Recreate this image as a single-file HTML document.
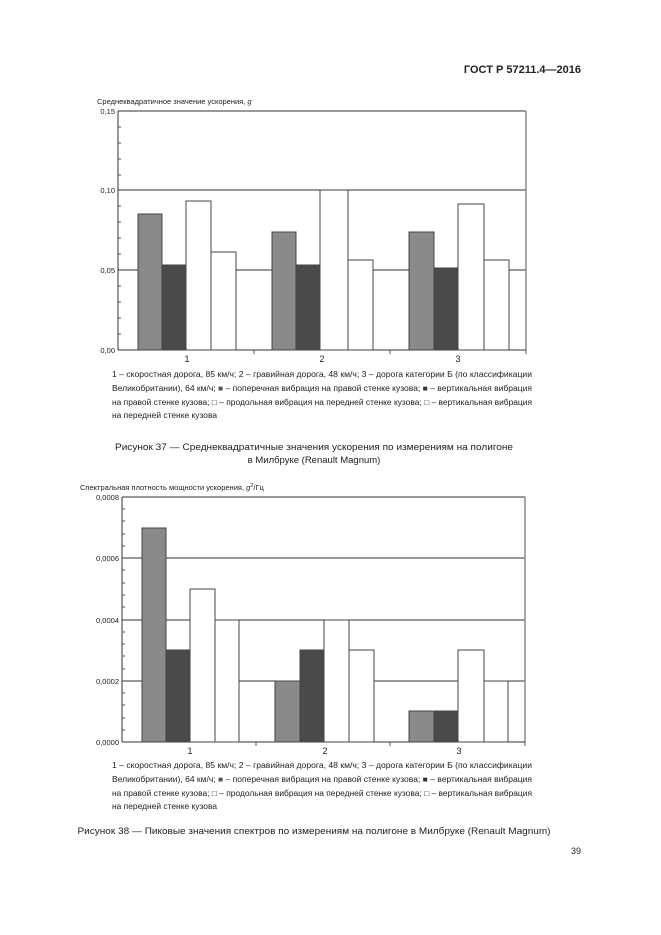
<!DOCTYPE html>
<html><head><meta charset="utf-8"><style>
html,body{margin:0;padding:0;background:#fff}
svg{display:block}
text{font-family:"Liberation Sans",sans-serif;fill:#222}
</style></head><body>
<svg width="661" height="935" viewBox="0 0 661 935" xmlns="http://www.w3.org/2000/svg">
<rect width="661" height="935" fill="#fff"/>
<text x="581" y="73" font-size="11" font-weight="bold" text-anchor="end">ГОСТ Р 57211.4—2016</text>

<!-- Chart 1 -->
<text x="97" y="104" font-size="7.5">Среднеквадратичное значение ускорения, <tspan font-style="italic">g</tspan></text>
<g stroke="#333" stroke-width="1">
<line x1="118" y1="111" x2="526" y2="111"/>
<line x1="118" y1="190" x2="526" y2="190"/>
<line x1="118" y1="270" x2="526" y2="270"/>
<line x1="526" y1="111" x2="526" y2="350" stroke="#888" stroke-width="1.5"/>
<line x1="118" y1="111" x2="118" y2="350"/>
<line x1="118" y1="350" x2="526" y2="350"/>
</g>
<g stroke="#555" stroke-width="1">
<line x1="118" y1="127" x2="121" y2="127"/><line x1="118" y1="143" x2="121" y2="143"/><line x1="118" y1="159" x2="121" y2="159"/><line x1="118" y1="175" x2="121" y2="175"/>
<line x1="118" y1="206" x2="121" y2="206"/><line x1="118" y1="222" x2="121" y2="222"/><line x1="118" y1="238" x2="121" y2="238"/><line x1="118" y1="254" x2="121" y2="254"/>
<line x1="118" y1="286" x2="121" y2="286"/><line x1="118" y1="302" x2="121" y2="302"/><line x1="118" y1="318" x2="121" y2="318"/><line x1="118" y1="334" x2="121" y2="334"/>
<line x1="254" y1="350" x2="254" y2="354"/><line x1="390" y1="350" x2="390" y2="354"/><line x1="526" y1="350" x2="526" y2="354"/>
</g>
<g font-size="7.5" text-anchor="end">
<text x="115" y="114">0,15</text><text x="115" y="193">0,10</text><text x="115" y="273">0,05</text><text x="115" y="353">0,00</text>
</g>
<g font-size="9" text-anchor="middle"><text x="187" y="362">1</text><text x="322" y="362">2</text><text x="458" y="362">3</text></g>
<g stroke="#444" stroke-width="1">
<rect x="138" y="214" width="24" height="136" fill="#8a8a8a"/>
<rect x="162" y="265" width="24" height="85" fill="#4a4a4a"/>
<rect x="186" y="201" width="25" height="149" fill="#fff"/>
<rect x="211" y="252" width="25" height="98" fill="#fff"/>
<rect x="272" y="232" width="24" height="118" fill="#8a8a8a"/>
<rect x="296" y="265" width="24" height="85" fill="#4a4a4a"/>
<rect x="320" y="190" width="28" height="160" fill="#fff"/>
<rect x="348" y="260" width="25" height="90" fill="#fff"/>
<rect x="409" y="232" width="25" height="118" fill="#8a8a8a"/>
<rect x="434" y="268" width="24" height="82" fill="#4a4a4a"/>
<rect x="458" y="204" width="26" height="146" fill="#fff"/>
<rect x="484" y="260" width="25" height="90" fill="#fff"/>
</g>
<g font-size="8">
<text x="112" y="377" textLength="420" lengthAdjust="spacingAndGlyphs">1 – скоростная дорога, 85 км/ч; 2 – гравийная дорога, 48 км/ч; 3 – дорога категории Б (по классификации</text>
<text x="112" y="391" textLength="420" lengthAdjust="spacingAndGlyphs">Великобритании), 64 км/ч; <tspan fill="#555">■</tspan> – поперечная вибрация на правой стенке кузова; <tspan fill="#333">■</tspan> – вертикальная вибрация</text>
<text x="112" y="405" textLength="420" lengthAdjust="spacingAndGlyphs">на правой стенке кузова; □ – продольная вибрация на передней стенке кузова; □ – вертикальная вибрация</text>
<text x="112" y="418" textLength="105" lengthAdjust="spacingAndGlyphs">на передней стенке кузова</text>
</g>
<g font-size="9.5" text-anchor="middle">
<text x="314" y="450" textLength="398" lengthAdjust="spacingAndGlyphs">Рисунок 37 — Среднеквадратичные значения ускорения по измерениям на полигоне</text>
<text x="314" y="463">в Милбруке (Renault Magnum)</text>
</g>

<!-- Chart 2 -->
<text x="80" y="490" font-size="7.5">Спектральная плотность мощности ускорения, <tspan font-style="italic">g</tspan><tspan font-size="5.5" dy="-3">2</tspan><tspan dy="3">/Гц</tspan></text>
<g stroke="#333" stroke-width="1">
<line x1="122" y1="497" x2="525" y2="497"/>
<line x1="122" y1="558" x2="525" y2="558"/>
<line x1="122" y1="620" x2="525" y2="620"/>
<line x1="122" y1="681" x2="525" y2="681"/>
<line x1="525" y1="497" x2="525" y2="742" stroke="#888" stroke-width="1.5"/>
<line x1="122" y1="497" x2="122" y2="742"/>
<line x1="122" y1="742" x2="525" y2="742"/>
</g>
<g stroke="#555" stroke-width="1">
<line x1="122" y1="509" x2="125" y2="509"/><line x1="122" y1="521" x2="125" y2="521"/><line x1="122" y1="534" x2="125" y2="534"/><line x1="122" y1="546" x2="125" y2="546"/>
<line x1="122" y1="570" x2="125" y2="570"/><line x1="122" y1="583" x2="125" y2="583"/><line x1="122" y1="595" x2="125" y2="595"/><line x1="122" y1="607" x2="125" y2="607"/>
<line x1="122" y1="632" x2="125" y2="632"/><line x1="122" y1="644" x2="125" y2="644"/><line x1="122" y1="656" x2="125" y2="656"/><line x1="122" y1="669" x2="125" y2="669"/>
<line x1="122" y1="693" x2="125" y2="693"/><line x1="122" y1="705" x2="125" y2="705"/><line x1="122" y1="718" x2="125" y2="718"/><line x1="122" y1="730" x2="125" y2="730"/>
<line x1="256" y1="742" x2="256" y2="746"/><line x1="390" y1="742" x2="390" y2="746"/><line x1="525" y1="742" x2="525" y2="746"/>
</g>
<g font-size="7.5" text-anchor="end">
<text x="119" y="500">0,0008</text><text x="119" y="561">0,0006</text><text x="119" y="623">0,0004</text><text x="119" y="684">0,0002</text><text x="119" y="745">0,0000</text>
</g>
<g font-size="9" text-anchor="middle"><text x="190" y="754">1</text><text x="325" y="754">2</text><text x="459" y="754">3</text></g>
<g stroke="#444" stroke-width="1">
<rect x="142" y="528" width="24" height="214" fill="#8a8a8a"/>
<rect x="166" y="650" width="24" height="92" fill="#4a4a4a"/>
<rect x="190" y="589" width="25" height="153" fill="#fff"/>
<rect x="215" y="620" width="24" height="122" fill="#fff"/>
<rect x="275" y="681" width="25" height="61" fill="#8a8a8a"/>
<rect x="300" y="650" width="24" height="92" fill="#4a4a4a"/>
<rect x="324" y="620" width="25" height="122" fill="#fff"/>
<rect x="349" y="650" width="25" height="92" fill="#fff"/>
<rect x="409" y="711" width="25" height="31" fill="#8a8a8a"/>
<rect x="434" y="711" width="24" height="31" fill="#4a4a4a"/>
<rect x="458" y="650" width="26" height="92" fill="#fff"/>
<rect x="484" y="681" width="24" height="61" fill="#fff"/>
</g>
<g font-size="8">
<text x="112" y="768" textLength="420" lengthAdjust="spacingAndGlyphs">1 – скоростная дорога, 85 км/ч; 2 – гравийная дорога, 48 км/ч; 3 – дорога категории Б (по классификации</text>
<text x="112" y="782" textLength="420" lengthAdjust="spacingAndGlyphs">Великобритании), 64 км/ч; <tspan fill="#555">■</tspan> – поперечная вибрация на правой стенке кузова; <tspan fill="#333">■</tspan> – вертикальная вибрация</text>
<text x="112" y="796" textLength="420" lengthAdjust="spacingAndGlyphs">на правой стенке кузова; □ – продольная вибрация на передней стенке кузова; □ – вертикальная вибрация</text>
<text x="112" y="809" textLength="105" lengthAdjust="spacingAndGlyphs">на передней стенке кузова</text>
</g>
<text x="314" y="834" font-size="9.5" text-anchor="middle" textLength="473" lengthAdjust="spacingAndGlyphs">Рисунок 38 — Пиковые значения спектров по измерениям на полигоне в Милбруке (Renault Magnum)</text>
<text x="581" y="854" font-size="9" text-anchor="end">39</text>
</svg>
</body></html>
